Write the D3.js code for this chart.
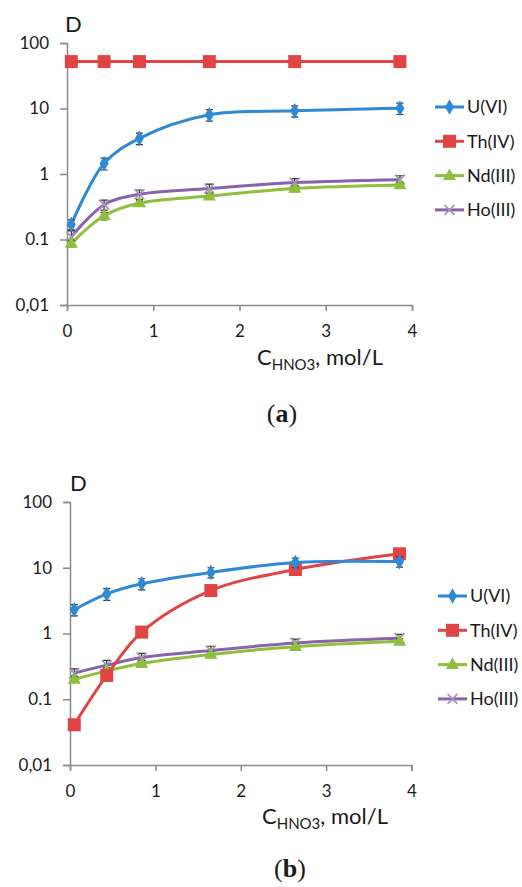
<!DOCTYPE html>
<html>
<head>
<meta charset="utf-8">
<script src="https://cdn.jsdelivr.net/npm/d3@7"></script>
<style>
  body { margin: 0; background: #fff; }
  text { font-family: Lato, "Open Sans", sans-serif; fill: #1a1a1a; }
</style>
</head>
<body>
<div id="graph"></div>
<script>
// HNO3 concentration, mol/L (same for both panels)
var conc = [0.05, 0.43, 0.84, 1.65, 2.64, 3.86];
var names = ["U(VI)", "Th(IV)", "Nd(III)", "Ho(III)"];
var yTicks = [0.01, 0.1, 1, 10, 100];
var yTickLabels = ["0,01", "0.1", "1", "10", "100"];
var xTicks = [0, 1, 2, 3, 4];

// panel (a)
var aU  = [0.17, 1.45, 3.5, 8.0, 9.2, 10.1];
var aTh = [52, 52, 52, 52, 52, 52];
var aNd = [0.087, 0.23, 0.36, 0.46, 0.6, 0.68];
var aHo = [0.11, 0.34, 0.49, 0.6, 0.74, 0.82];
var aUerr  = [0.03, 0.3, 0.7, 1.6, 1.8, 2.0];
var aThErr = [4, 4, 4, 4, 4, 4];
var aNdErr = [0.01, 0.03, 0.04, 0.05, 0.06, 0.07];
var aHoErr = [0.025, 0.06, 0.08, 0.1, 0.11, 0.12];

// panel (b)
var bU  = [2.3, 4.0, 5.7, 8.5, 12.0, 12.4];
var bTh = [0.041, 0.23, 1.05, 4.5, 9.4, 16.3];
var bNd = [0.2, 0.27, 0.35, 0.48, 0.63, 0.76];
var bHo = [0.25, 0.33, 0.43, 0.55, 0.72, 0.85];
var bUerr  = [0.45, 0.8, 1.1, 1.5, 2.0, 2.2];
var bThErr = [0.004, 0.02, 0.08, 0.3, 1.0, 1.5];
var bNdErr = [0.02, 0.03, 0.04, 0.05, 0.06, 0.07];
var bHoErr = [0.04, 0.06, 0.07, 0.09, 0.1, 0.12];

var colors = ["#2f8ad3", "#e04444", "#8fbf3c", "#8a63ad"];
var markerKinds = ["diamond", "square", "triangle", "cross"];

window.onload = start;

function start() {
    var width = 522;
    var height = 887;

    var svg = d3.select('#graph')
        .append('svg')
        .attr('width', width)
        .attr('height', height);

    drawPanel(svg, {
        left: 67, right: 412, top: 43, bottom: 305,
        label: "a", labelX: 282, labelY: 422,
        legendX: 435, legendY: 107,
        xTitleX: 257, xTitleY: 365,
        dX: 65, dY: 32
    }, [aU, aTh, aNd, aHo], [aUerr, aThErr, aNdErr, aHoErr]);

    drawPanel(svg, {
        left: 70, right: 411.5, top: 502, bottom: 765,
        label: "b", labelX: 290, labelY: 877,
        legendX: 438, legendY: 596,
        xTitleX: 262, xTitleY: 824,
        dX: 70, dY: 491
    }, [bU, bTh, bNd, bHo], [bUerr, bThErr, bNdErr, bHoErr]);
}

function drawMarker(g, kind, color, x, y) {
    if (kind == "diamond") {
        g.append('path')
            .attr('d', d3.symbol().type(d3.symbolDiamond).size(70)())
            .attr('transform', 'translate(' + x + ',' + y + ')')
            .attr('fill', color);
    } else if (kind == "square") {
        g.append('rect')
            .attr('x', x - 6.5).attr('y', y - 6.5)
            .attr('width', 13).attr('height', 13)
            .attr('fill', color);
    } else if (kind == "triangle") {
        g.append('path')
            .attr('d', d3.symbol().type(d3.symbolTriangle).size(75)())
            .attr('transform', 'translate(' + x + ',' + (y + 0.5) + ')')
            .attr('fill', color);
    } else {
        g.append('path')
            .attr('d', 'M-5,-5L5,5M-5,5L5,-5')
            .attr('transform', 'translate(' + x + ',' + y + ')')
            .attr('stroke', '#a58fc4')
            .attr('stroke-width', 1.6)
            .attr('fill', 'none');
    }
}

function drawPanel(svg, p, series, errors) {
    var xScale = d3.scaleLinear().domain([0, 4]).range([p.left, p.right]);
    var yScale = d3.scaleLog().domain([0.01, 100]).range([p.bottom, p.top]);

    var yAxis = d3.axisLeft(yScale)
        .tickValues(yTicks)
        .tickFormat(function(d, i) { return yTickLabels[i]; })
        .tickSize(7)
        .tickPadding(11);

    var xAxis = d3.axisBottom(xScale)
        .tickValues(xTicks)
        .tickFormat(d3.format('d'))
        .tickSize(6)
        .tickPadding(14);

    var gy = svg.append('g')
        .attr('transform', 'translate(' + p.left + ',0)')
        .call(yAxis);
    var gx = svg.append('g')
        .attr('transform', 'translate(0,' + p.bottom + ')')
        .call(xAxis);

    [gx, gy].forEach(function(g) {
        g.selectAll('.domain').attr('stroke', '#8a8a8a').attr('stroke-width', 1.5);
        g.selectAll('.tick line').attr('stroke', '#8a8a8a').attr('stroke-width', 1.5);
        g.selectAll('.tick text')
            .style('font-family', 'Lato, "Open Sans", sans-serif')
            .style('font-size', '17px')
            .attr('fill', '#1a1a1a');
    });

    // axis titles
    svg.append('text')
        .attr('x', p.dX).attr('y', p.dY)
        .style('font-size', '22px')
        .text('D');

    var xt = svg.append('text')
        .attr('x', p.xTitleX).attr('y', p.xTitleY)
        .style('font-size', '22px');
    xt.append('tspan').text('C');
    xt.append('tspan').attr('dy', 5).style('font-size', '15px').text('HNO3');
    xt.append('tspan').attr('dy', -5).text(', mol/L');

    var lab = svg.append('text')
        .attr('x', p.labelX).attr('y', p.labelY)
        .attr('text-anchor', 'middle')
        .style('font-family', '"Liberation Serif", serif')
        .style('font-size', '26px');
    lab.append('tspan').text('(');
    lab.append('tspan').style('font-weight', 'bold').text(p.label);
    lab.append('tspan').text(')');

    var line = d3.line()
        .x(function(d, i) { return xScale(conc[i]); })
        .y(function(d) { return yScale(d); })
        .curve(d3.curveCatmullRom.alpha(0.5));

    var plot = svg.append('g');

    // draw in order so U is on top like the original
    [3, 2, 1, 0].forEach(function(s) {
        var g = plot.append('g');
        g.append('path')
            .datum(series[s])
            .attr('d', line)
            .attr('fill', 'none')
            .attr('stroke', colors[s])
            .attr('stroke-width', 3);

        series[s].forEach(function(v, i) {
            var x = xScale(conc[i]);
            var y1 = yScale(v + errors[s][i]);
            var y2 = yScale(Math.max(v - errors[s][i], 0.0011));
            g.append('path')
                .attr('d', 'M' + x + ',' + y1 + 'V' + y2 +
                    'M' + (x - 3.5) + ',' + y1 + 'H' + (x + 3.5) +
                    'M' + (x - 3.5) + ',' + y2 + 'H' + (x + 3.5))
                .attr('stroke', '#333')
                .attr('stroke-width', 1.2)
                .attr('fill', 'none');
            drawMarker(g, markerKinds[s], colors[s], x, yScale(v));
        });
    });

    // legend
    var legend = svg.append('g');
    names.forEach(function(name, s) {
        var y = p.legendY + s * 34.3;
        legend.append('line')
            .attr('x1', p.legendX).attr('x2', p.legendX + 29)
            .attr('y1', y).attr('y2', y)
            .attr('stroke', colors[s])
            .attr('stroke-width', 3);
        drawMarker(legend, markerKinds[s], colors[s], p.legendX + 14.5, y);
        legend.append('text')
            .attr('x', p.legendX + 32).attr('y', y)
            .attr('dy', '0.35em')
            .style('font-size', '18px')
            .text(name);
    });
}
</script>
</body>
</html>
